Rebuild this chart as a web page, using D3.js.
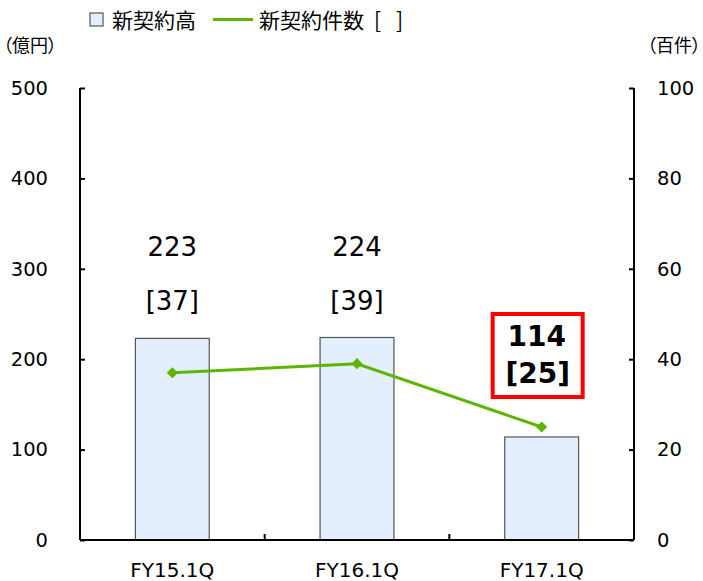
<!DOCTYPE html>
<html><head><meta charset="utf-8">
<script src="https://cdn.jsdelivr.net/npm/d3@7/dist/d3.min.js"></script>
<style>
body{margin:0;background:#fff;}
text{font-family:"DejaVu Sans",Verdana,sans-serif;fill:#000;}
.jp{font-family:"Noto Sans CJK JP",sans-serif;font-feature-settings:"palt";}
</style></head>
<body><svg id="c" width="703" height="581"></svg>
<script>
const categories = ["FY15.1Q", "FY16.1Q", "FY17.1Q"];
const amounts = [223, 224, 114];      // 新契約高（億円）
const counts = [37, 39, 25];          // 新契約件数（百件）
const leftTicks = [0, 100, 200, 300, 400, 500];
const rightTicks = [0, 20, 40, 60, 80, 100];

const svg = d3.select("#c");
const x0 = 80, x1 = 634, yTop = 88, yBot = 540;
const green = "#5cb500", barFill = "#e3effc";

const x = d3.scaleBand().domain(categories).range([x0, x1]).paddingInner(0.6).paddingOuter(0.3);
const yL = d3.scaleLinear().domain([0, 500]).range([yBot, yTop]);
const yR = d3.scaleLinear().domain([0, 100]).range([yBot, yTop]);
const xc = d => x(d) + x.bandwidth() / 2;

// bars
svg.selectAll("rect.bar").data(amounts).enter().append("rect")
  .attr("class", "bar")
  .attr("x", (d, i) => x(categories[i]))
  .attr("y", d => yL(d))
  .attr("width", x.bandwidth())
  .attr("height", d => yBot - yL(d))
  .attr("fill", barFill).attr("stroke", "#555").attr("stroke-width", 1.2);

// axes
const axL = d3.axisLeft(yL).tickValues(leftTicks).tickSize(-5).tickPadding(32).tickSizeOuter(0);
const gL = svg.append("g").attr("transform", `translate(${x0},0)`).call(axL);
const axR = d3.axisRight(yR).tickValues(rightTicks).tickSize(-5).tickPadding(23).tickSizeOuter(0);
const gR = svg.append("g").attr("transform", `translate(${x1},0)`).call(axR);
[gL, gR].forEach(g => {
  g.select(".domain").attr("stroke", "#000").attr("stroke-width", 2).attr("d", `M0,${yTop}V${yBot}`);
  g.selectAll(".tick line").attr("stroke", "#000").attr("stroke-width", 2);
  g.selectAll(".tick text").style("font-family", '"DejaVu Sans",Verdana,sans-serif')
    .style("font-size", "19.5px").attr("fill", "#000");
});

// bottom axis with ticks between categories
const gB = svg.append("g");
gB.append("line").attr("x1", x0).attr("x2", x1).attr("y1", yBot).attr("y2", yBot)
  .attr("stroke", "#000").attr("stroke-width", 2);
const step = (x1 - x0) / categories.length;
d3.range(1, categories.length).forEach(i => {
  gB.append("line").attr("x1", x0 + step * i).attr("x2", x0 + step * i)
    .attr("y1", yBot).attr("y2", yBot - 6).attr("stroke", "#000").attr("stroke-width", 2);
});
gB.selectAll("text").data(categories).enter().append("text")
  .attr("x", d => xc(d)).attr("y", 577).attr("text-anchor", "middle")
  .style("font-size", "20px").text(d => d);

// line with diamond markers
const line = d3.line().x((d, i) => xc(categories[i])).y(d => yR(d));
svg.append("path").datum(counts).attr("d", line)
  .attr("fill", "none").attr("stroke", green).attr("stroke-width", 3);
svg.selectAll("path.pt").data(counts).enter().append("path")
  .attr("class", "pt")
  .attr("d", d3.symbol().type(d3.symbolDiamond2).size(80))
  .attr("transform", (d, i) => `translate(${xc(categories[i])},${yR(d)})`)
  .attr("fill", green);

// value labels: amount over [count]
const lastIdx = categories.length - 1;
amounts.forEach((v, i) => {
  const cx = xc(categories[i]);
  if (i < lastIdx) {
    svg.append("text").attr("x", cx).attr("y", 256).attr("text-anchor", "middle")
      .style("font-size", "26px").text(v);
    svg.append("text").attr("x", cx).attr("y", 310).attr("text-anchor", "middle")
      .style("font-size", "26px").text(`[${counts[i]}]`);
  } else {
    svg.append("rect").attr("x", cx - 49).attr("y", 314).attr("width", 90).attr("height", 83)
      .attr("fill", "#fff").attr("stroke", "#ff0000").attr("stroke-width", 4);
    svg.append("text").attr("x", cx - 5).attr("y", 346).attr("text-anchor", "middle")
      .style("font-size", "28px").style("font-weight", "bold").text(v);
    svg.append("text").attr("x", cx - 4).attr("y", 383).attr("text-anchor", "middle")
      .style("font-size", "28px").style("font-weight", "bold").text(`[${counts[i]}]`);
  }
});

// units
svg.append("text").attr("class", "jp").attr("x", 3).attr("y", 52).style("font-size", "18px").text("（億円）");
svg.append("text").attr("class", "jp").attr("x", 701).attr("y", 52).attr("text-anchor", "end")
  .style("font-size", "18px").text("（百件）");

// legend
svg.append("rect").attr("x", 90).attr("y", 13).attr("width", 13).attr("height", 13)
  .attr("fill", barFill).attr("stroke", "#555").attr("stroke-width", 1.2);
svg.append("text").attr("class", "jp").attr("x", 112).attr("y", 28).style("font-size", "21px").text("新契約高");
svg.append("line").attr("x1", 213).attr("x2", 253).attr("y1", 19.5).attr("y2", 19.5)
  .attr("stroke", green).attr("stroke-width", 3);
svg.append("text").attr("class", "jp").attr("x", 259).attr("y", 28).style("font-size", "21px").text("新契約件数");
svg.append("text").attr("class", "jp").attr("x", 374).attr("y", 28).style("font-size", "21px").text("[");
svg.append("text").attr("class", "jp").attr("x", 396).attr("y", 28).style("font-size", "21px").text("]");
</script></body></html>
